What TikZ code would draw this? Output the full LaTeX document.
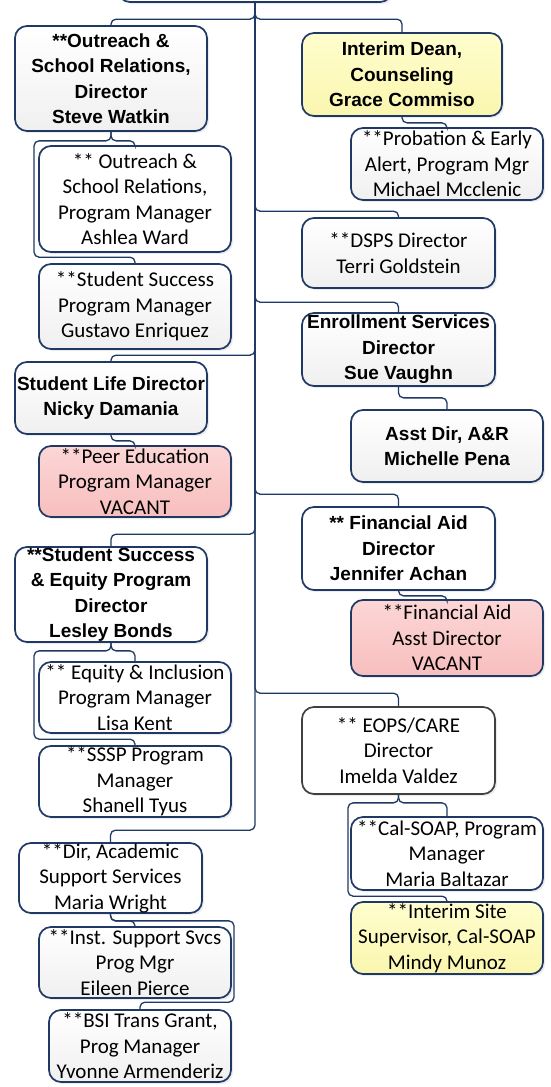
\documentclass[tikz,border=0pt]{standalone}
\usepackage{fontspec}
\setmainfont{Carlito}
\newfontfamily\arialf{Liberation Sans}
\usetikzlibrary{shadows}
\definecolor{navy}{RGB}{31,56,100}
\definecolor{grayline}{RGB}{64,64,64}
\definecolor{pinkA}{RGB}{252,214,214}
\definecolor{pinkB}{RGB}{248,190,190}
\definecolor{yelA}{RGB}{255,254,205}
\definecolor{yelB}{RGB}{250,246,175}
\begin{document}
\begin{tikzpicture}[x=1pt,y=-1pt,
  box/.style={draw=navy, line width=1.7pt, rounded corners=12pt, inner sep=0pt, align=center,
    drop shadow={shadow xshift=2pt, shadow yshift=-2pt, opacity=0.15}},
  gbox/.style={top color=white, bottom color=black!6},
  wbox/.style={fill=white},
  pbox/.style={top color=pinkA, bottom color=pinkB},
  ybox/.style={top color=yelA, bottom color=yelB},
  bt/.style={font=\arialf\bfseries\fontsize{19}{25.5}\selectfont},
  rt/.style={font=\fontsize{21}{25.5}\selectfont},
  conn/.style={draw=navy, line width=1.3pt, rounded corners=5pt}
]
\useasboundingbox (0,0) rectangle (550,1087);

% top (cut-off) box
\node[box, wbox, minimum width=274pt, minimum height=40pt] (top) at (255,-18) {};

% left column
\node[box, gbox, bt, minimum width=192pt, minimum height=105pt] (A) at (111,78.5) {**Outreach \&\\School Relations,\\Director\\Steve Watkin};
\node[box, wbox, rt, minimum width=192pt, minimum height=106pt] (B) at (135,199) {** Outreach \&\\School Relations,\\Program Manager\\Ashlea Ward};
\node[box, gbox, rt, minimum width=192pt, minimum height=85pt] (C) at (135,306.5) {**Student Success\\Program Manager\\Gustavo Enriquez};
\node[box, gbox, bt, minimum width=192pt, minimum height=72pt] (D) at (111,398) {Student Life Director\\Nicky Damania};
\node[box, pbox, rt, minimum width=192pt, minimum height=71pt] (E) at (135,481.5) {**Peer Education\\Program Manager\\VACANT};
\node[box, wbox, bt, minimum width=192pt, minimum height=95pt] (F) at (111,594.5) {**Student Success\\\& Equity Program\\Director\\Lesley Bonds};
\node[box, wbox, rt, minimum width=192pt, minimum height=71pt] (G) at (135,697.5) {** Equity \& Inclusion\\Program Manager\\Lisa Kent};
\node[box, wbox, rt, minimum width=192pt, minimum height=71pt] (H) at (135,781.5) {**SSSP Program\\Manager\\Shanell Tyus};
\node[box, wbox, rt, minimum width=183pt, minimum height=70pt] (I) at (110.5,878) {**Dir, Academic\\Support Services\\Maria Wright};
\node[box, gbox, rt, minimum width=192pt, minimum height=71pt] (J) at (135,962.5) {**Inst. Support Svcs\\Prog Mgr\\Eileen Pierce};
\node[box, gbox, rt, minimum width=182pt, minimum height=72pt] (K) at (140,1046) {**BSI Trans Grant,\\Prog Manager\\Yvonne Armenderiz};

% right column
\node[box, ybox, bt, minimum width=200pt, minimum height=83pt] (L) at (402,74.5) {Interim Dean,\\Counseling\\Grace Commiso};
\node[box, gbox, rt, minimum width=192pt, minimum height=72pt] (M) at (447,164) {**Probation \& Early\\Alert, Program Mgr\\Michael Mcclenic};
\node[box, gbox, rt, minimum width=193pt, minimum height=70pt] (N) at (398.5,253) {**DSPS Director\\Terri Goldstein};
\node[box, gbox, bt, minimum width=193pt, minimum height=73pt] (O) at (398.5,349.5) {Enrollment Services\\Director\\Sue Vaughn};
\node[box, gbox, bt, minimum width=192pt, minimum height=72pt] (P) at (447,446) {Asst Dir, A\&R\\Michelle Pena};
\node[box, wbox, bt, minimum width=193pt, minimum height=83pt] (Q) at (398.5,548.5) {** Financial Aid\\Director\\Jennifer Achan};
\node[box, pbox, rt, minimum width=192pt, minimum height=76pt] (R) at (447,638) {**Financial Aid\\Asst Director\\VACANT};
\node[box, wbox, rt, draw=grayline, minimum width=193pt, minimum height=87pt] (S) at (398.5,750.5) {** EOPS/CARE\\Director\\Imelda Valdez};
\node[box, wbox, rt, minimum width=192pt, minimum height=73pt] (T) at (447,853.5) {**Cal-SOAP, Program\\Manager\\Maria Baltazar};
\node[box, ybox, rt, minimum width=192pt, minimum height=72pt] (U) at (447,938) {**Interim Site\\Supervisor, Cal-SOAP\\Mindy Munoz};

% trunk connectors
\draw[conn] (top.south) |- ([yshift=6pt]A.north) -- (A.north);
\draw[conn] (top.south) |- ([yshift=13pt]L.north) -- (L.north);
\draw[conn] (top.south) |- ([yshift=6pt]N.north) -- (N.north);
\draw[conn] (top.south) |- ([yshift=10pt]O.north) -- (O.north);
\draw[conn] (top.south) |- ([yshift=6pt]D.north) -- (D.north);
\draw[conn] (top.south) |- ([yshift=12pt]Q.north) -- (Q.north);
\draw[conn] (top.south) |- ([yshift=12pt]F.north) -- (F.north);
\draw[conn] (top.south) |- ([yshift=13pt]S.north) -- (S.north);
\draw[conn] (top.south) |- ([yshift=12pt]I.north) -- (I.north);

% sub connectors
\draw[conn] (A.south) -- ++(0,9) -| (B.north);
\draw[conn] (A.south) -- ++(0,9) -- ++(-77,0) |- ([yshift=6pt]C.north) -- (C.north);
\draw[conn] (D.south) -- ++(0,6) -| (E.north);
\draw[conn] (F.south) -- ++(0,8) -| (G.north);
\draw[conn] (F.south) -- ++(0,8) -- ++(-77,0) |- ([yshift=6pt]H.north) -- (H.north);
\draw[conn] (I.south) -- ++(0,7) -| (J.north);
\draw[conn] (I.south) -- ++(0,7) -- ++(123.5,0) |- ([yshift=7pt]K.north) -- (K.north);
\draw[conn] (L.south) -- ++(0,6) -| (M.north);
\draw[conn] (O.south) -- ++(0,11) -| (P.north);
\draw[conn] (Q.south) -- ++(0,5) -| (R.north);
\draw[conn] (S.south) -- ++(0,8) -| (T.north);
\draw[conn] (S.south) -- ++(0,8) -- ++(-50.5,0) |- ([yshift=5pt]U.north) -- (U.north);
\end{tikzpicture}
\end{document}
